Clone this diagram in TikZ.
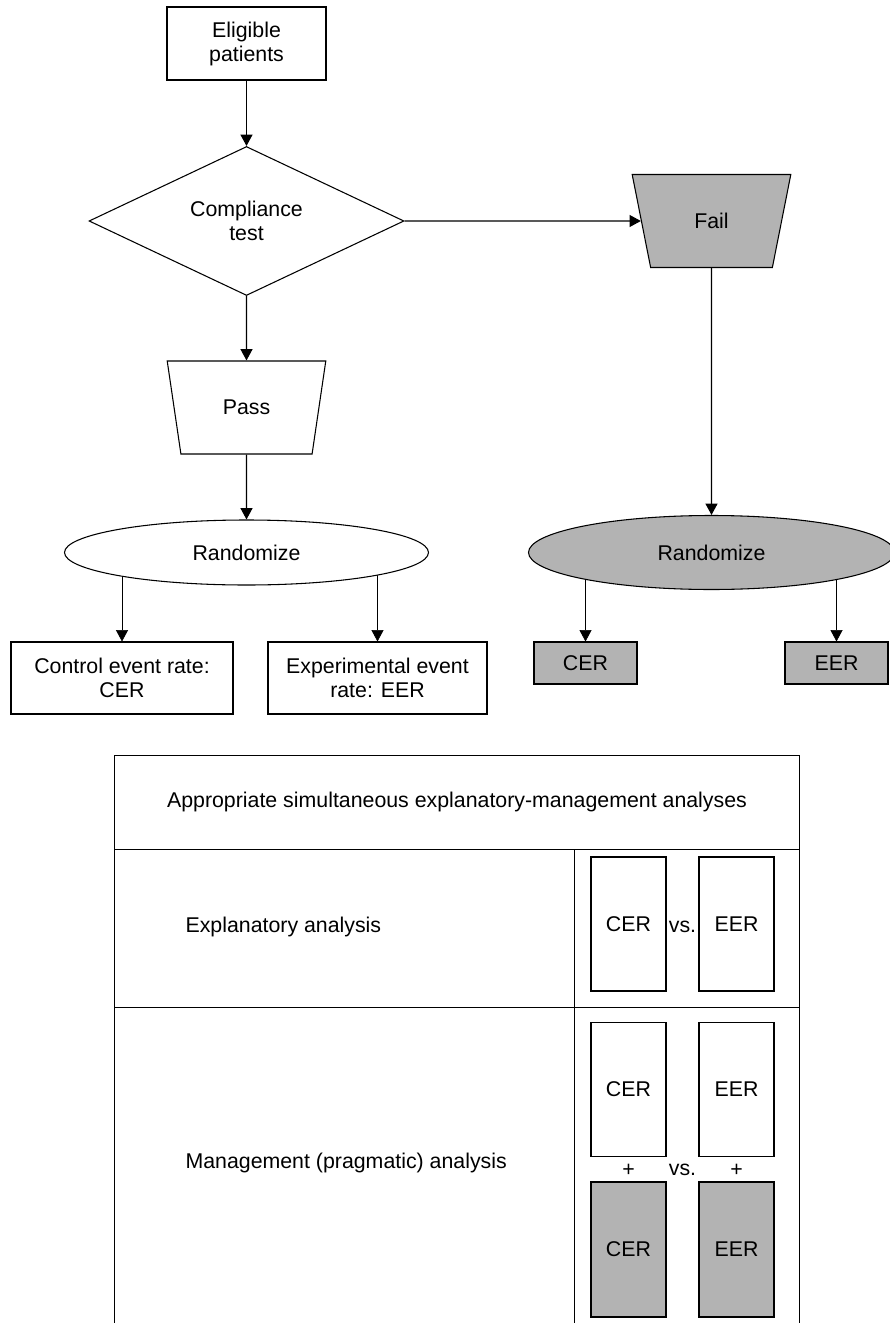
\documentclass[tikz,border=0pt]{standalone}
\usepackage{fontspec}
\setmainfont{Liberation Sans}
\usetikzlibrary{shapes.geometric,arrows.meta,backgrounds}
\definecolor{greyfill}{RGB}{179,179,179}
\begin{document}
\begin{tikzpicture}[x=0.75pt,y=-0.75pt,line width=0.8pt,
  every node/.style={font=\fontsize{16}{18}\selectfont,align=center,line width=0.8pt},
  box/.style={draw,rectangle,fill=white,inner sep=0pt},
  greybox/.style={box,fill=greyfill},
  trap/.style={draw,trapezium,trapezium angle=71.6,shape border rotate=180,trapezium stretches=true,
    minimum width=119.25pt,minimum height=69.75pt,inner sep=0pt},
  oval/.style={draw,ellipse,inner sep=0pt},
  arr/.style={-{Triangle[length=8.5pt,width=9pt]}},
  label/.style={inner sep=0pt}]
\useasboundingbox (0,0) rectangle (889,1323);

% flowchart
\node[box,minimum width=119.25pt,minimum height=54.75pt] (elig) at (246.5,43.5) {Eligible\\patients};
\node[draw,diamond,aspect=2,fill=white,inner sep=0pt,minimum width=236.25pt,minimum height=111.75pt] (comp) at (246.5,221) {Compliance\\test};
\node[trap,fill=white] (pass) at (246.5,407.5) {Pass};
\node[trap,fill=greyfill] (fail) at (711.5,221) {Fail};
\node[oval,fill=white,minimum width=273pt,minimum height=48.75pt] (rand) at (246.5,552.5) {Randomize};
\node[oval,fill=greyfill,minimum width=274.5pt,minimum height=55.5pt] (grand) at (711.5,552.5) {Randomize};
\node[box,minimum width=166.5pt,minimum height=54pt] (cer) at (122,678) {Control event rate:\\CER};
\node[box,minimum width=164.25pt,minimum height=54pt] (eer) at (377.5,678) {Experimental event\\rate: EER};
\node[greybox,minimum width=77.25pt,minimum height=31.5pt] (gcer) at (585.5,663) {CER};
\node[greybox,minimum width=77.25pt,minimum height=31.5pt] (geer) at (836.5,663) {EER};

\draw[arr] (elig.south) -- (comp.north);
\draw[arr] (comp.east) -- (fail);
\draw[arr] (comp.south) -- (pass.north);
\draw[arr] (pass.south) -- (rand.north);
\draw[arr] (fail.south) -- (grand.north);
\begin{pgfonlayer}{background}
\draw[arr] (cer.north |- rand.center) -- (cer.north);
\draw[arr] (eer.north |- rand.center) -- (eer.north);
\draw[arr] (gcer.north |- grand.center) -- (gcer.north);
\draw[arr] (geer.north |- grand.center) -- (geer.north);
\end{pgfonlayer}

% table
\coordinate (tl) at (114,755);
\coordinate (tr) at (799,755);
\coordinate (bl) at (114,1323);
\coordinate (br) at (799,1323);
\coordinate (r1l) at (114,849);
\coordinate (r1r) at (799,849);
\coordinate (r2l) at (114,1007);
\coordinate (r2r) at (799,1007);
\coordinate (ct) at (574,849);
\coordinate (cb) at (574,1323);
\draw (bl) -- (tl) -- (tr) -- (br);
\draw (r1l) -- (r1r);
\draw (r2l) -- (r2r);
\draw (ct) -- (cb);

\node[label] (title) at (457,802) {Appropriate simultaneous explanatory-management analyses};
\node[label,anchor=west] (expl) at (185,927) {Explanatory analysis};
\node[label,anchor=west] (mgmt) at (185,1163) {Management (pragmatic) analysis};

\node[box,minimum width=56.25pt,minimum height=100.5pt] (c1) at (628.5,924) {CER};
\node[box,minimum width=56.25pt,minimum height=100.5pt] (e1) at (736.5,924) {EER};
\node[label] (vs1) at (682.5,927) {vs.};
\node[box,minimum width=56.25pt,minimum height=100pt] (c2) at (628.5,1089.5) {CER};
\node[box,minimum width=56.25pt,minimum height=100pt] (e2) at (736.5,1089.5) {EER};
\node[label] (p1) at (628.5,1170) {+};
\node[label] (p2) at (736.5,1170) {+};
\node[label] (vs2) at (682.5,1170) {vs.};
\node[greybox,minimum width=56.25pt,minimum height=101.25pt] (c3) at (628.5,1249.5) {CER};
\node[greybox,minimum width=56.25pt,minimum height=101.25pt] (e3) at (736.5,1249.5) {EER};
\end{tikzpicture}
\end{document}
